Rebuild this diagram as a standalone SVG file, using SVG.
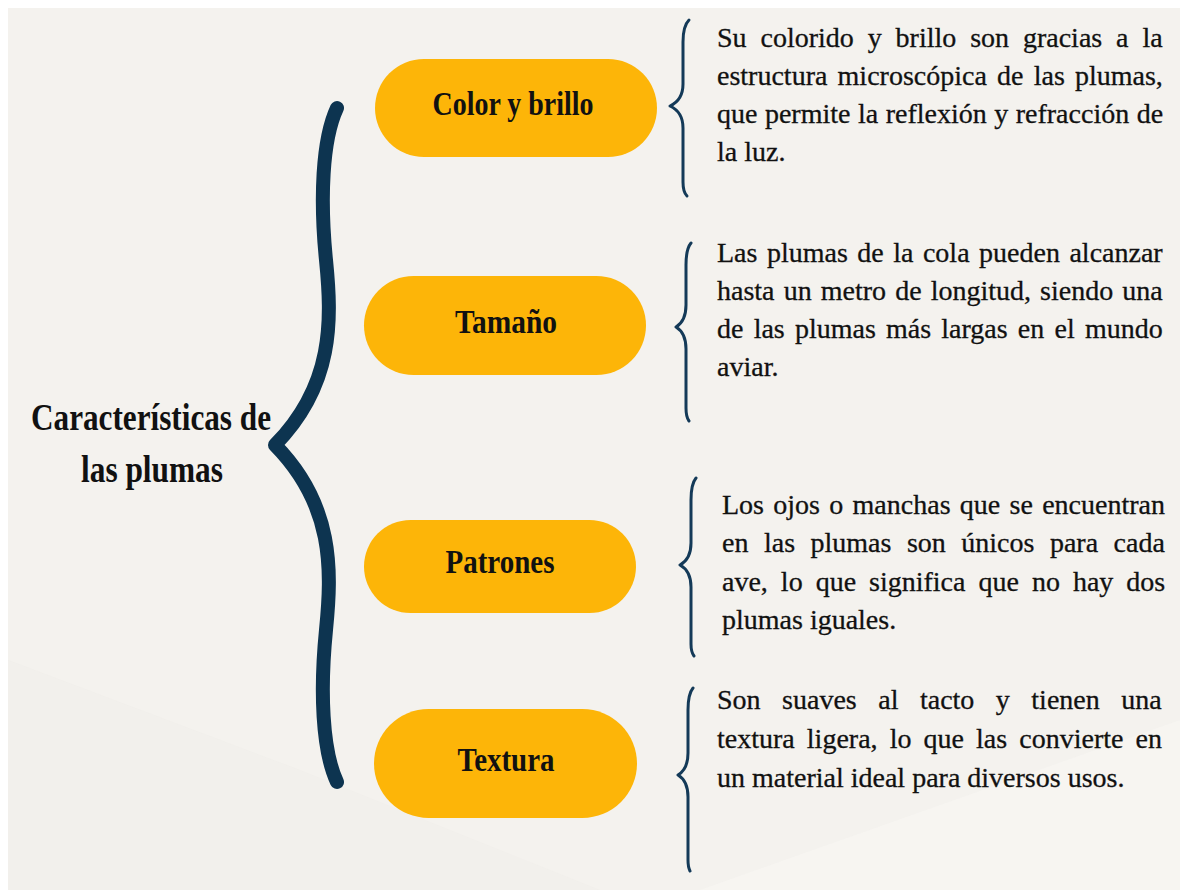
<svg xmlns="http://www.w3.org/2000/svg" width="1180" height="890" viewBox="0 0 1180 890">
<style>
.pill{fill:#FDB508}
.lbl{font-family:"Liberation Serif","Times New Roman",serif;font-weight:bold;font-size:33px;fill:#111;text-anchor:middle}
.title{font-family:"Liberation Serif","Times New Roman",serif;font-weight:bold;font-size:37px;fill:#111;text-anchor:middle}
.desc{font-family:"Liberation Serif","Times New Roman",serif;font-size:28px;fill:#111;stroke:#111;stroke-width:0.3}
.brace{fill:none;stroke:#143a58;stroke-width:3;stroke-linecap:round;stroke-linejoin:round}
.big{fill:none;stroke:#0d3450;stroke-width:14;stroke-linecap:round;stroke-linejoin:round}
</style>
<rect x="0" y="0" width="1180" height="890" fill="#ffffff"/>
<rect x="8" y="8" width="1172" height="882" fill="#f4f2ee"/>
<polygon points="8,660 300,770 600,890 8,890" fill="#efedea" opacity="0.5"/>
<polygon points="700,890 1180,720 1180,890" fill="#f8f6f3" opacity="0.6"/>

<g id="title">
<text class="title" x="151" y="430" textLength="240" lengthAdjust="spacingAndGlyphs">Características de</text>
<text class="title" x="152" y="482" textLength="142" lengthAdjust="spacingAndGlyphs">las plumas</text>
</g>

<g id="connectors">
<path class="big" d="M 337,108 C 322,140 320,200 326,260 C 332,320 334,385 275,445 C 334,505 332,570 326,630 C 320,690 322,750 337,782"/>
<path class="brace" d="M 689,20 Q 683,26 683,42 L 683,84 Q 683,100 670,106 Q 683,112 683,128 L 683,182 Q 683,192 687,196"/>
<path class="brace" d="M 691,243 Q 686,249 686,265 L 686,305 Q 686,321 676,327 Q 686,333 686,349 L 686,408 Q 686,417 689,421"/>
<path class="brace" d="M 696,478 Q 691,484 691,500 L 691,543 Q 691,559 680,565 Q 691,571 691,587 L 691,644 Q 691,652 694,656"/>
<path class="brace" d="M 693,688 Q 688,694 688,710 L 688,753 Q 688,769 678,775 Q 688,781 688,797 L 688,860 Q 688,867 690,871"/>
</g>

<g id="node-color">
<rect class="pill" x="375" y="59" width="282" height="98" rx="49"/>
<text class="lbl" x="513" y="115" textLength="161" lengthAdjust="spacingAndGlyphs">Color y brillo</text>
</g>
<g id="node-tamano">
<rect class="pill" x="364" y="276" width="282" height="99" rx="49.5"/>
<text class="lbl" x="506" y="333" textLength="102" lengthAdjust="spacingAndGlyphs">Tamaño</text>
</g>
<g id="node-patrones">
<rect class="pill" x="364" y="520" width="272" height="93" rx="46.5"/>
<text class="lbl" x="500" y="573" textLength="109" lengthAdjust="spacingAndGlyphs">Patrones</text>
</g>
<g id="node-textura">
<rect class="pill" x="374" y="709" width="263" height="109" rx="54.5"/>
<text class="lbl" x="506" y="771" textLength="97" lengthAdjust="spacingAndGlyphs">Textura</text>
</g>

<g id="desc-color">
<text class="desc" x="717" y="47" word-spacing="6.9">Su colorido y brillo son gracias a la</text>
<text class="desc" x="717" y="85" word-spacing="3.2">estructura microscópica de las plumas,</text>
<text class="desc" x="717" y="123" word-spacing="0.5">que permite la reflexión y refracción de</text>
<text class="desc" x="717" y="161">la luz.</text>
</g>
<g id="desc-tamano">
<text class="desc" x="717" y="262" word-spacing="2.5">Las plumas de la cola pueden alcanzar</text>
<text class="desc" x="717" y="300" word-spacing="2.1">hasta un metro de longitud, siendo una</text>
<text class="desc" x="717" y="338" word-spacing="3.2">de las plumas más largas en el mundo</text>
<text class="desc" x="717" y="376">aviar.</text>
</g>
<g id="desc-patrones">
<text class="desc" x="722" y="514" word-spacing="2.3">Los ojos o manchas que se encuentran</text>
<text class="desc" x="722" y="552" word-spacing="8.5">en las plumas son únicos para cada</text>
<text class="desc" x="722" y="591" word-spacing="6.0">ave, lo que significa que no hay dos</text>
<text class="desc" x="722" y="629">plumas iguales.</text>
</g>
<g id="desc-textura">
<text class="desc" x="717" y="709" word-spacing="14.5">Son suaves al tacto y tienen una</text>
<text class="desc" x="717" y="748" word-spacing="5.1">textura ligera, lo que las convierte en</text>
<text class="desc" x="717" y="787">un material ideal para diversos usos.</text>
</g>
</svg>
